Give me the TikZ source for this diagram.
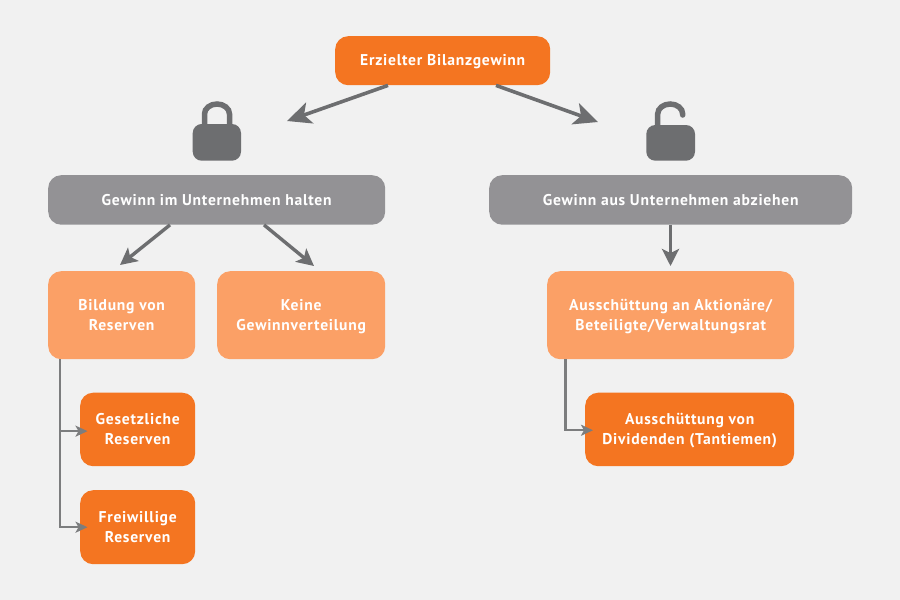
\documentclass[tikz,border=0pt]{standalone}
\usepackage{fontspec}
\setmainfont{PT Sans}[LetterSpace=4.8]
\usetikzlibrary{arrows.meta,calc}
\definecolor{pagebg}{HTML}{F1F1F1}
\definecolor{orangebox}{HTML}{F47521}
\definecolor{peachbox}{HTML}{FBA066}
\definecolor{greybox}{HTML}{939295}
\definecolor{darkgrey}{HTML}{6D6E70}
\tikzset{
  x=1pt,y=-1pt,
  box/.style={rounded corners=13pt,inner sep=0pt,align=center,text=white,font=\fontsize{15.6}{19.5}\selectfont\bfseries,anchor=north west},
  bigarrow/.style={draw=darkgrey,line width=3.6pt,-{Stealth[length=24pt,width=22pt,inset=6pt]}},
  midarrow/.style={draw=darkgrey,line width=3.4pt,-{Stealth[length=17pt,width=17pt,inset=4pt]}},
  smallarrow/.style={draw=darkgrey!90!white,line width=2.4pt,-{Stealth[length=12pt,width=11pt,inset=3pt]}},
  lockpart/.style={draw=darkgrey,line width=5.5pt,line cap=round},
}
\newcommand{\boxnode}[7]{\node[box,fill=#2,minimum width=#5pt-#3pt,minimum height=#6pt-#4pt] (#1) at (#3,#4) {#7};}
\newcommand{\lh}{\vrule width 0pt height 14.95pt depth 4.55pt\relax}
\begin{document}
\begin{tikzpicture}
\useasboundingbox (0,0) rectangle (900,600);
\fill[pagebg] (0,0) rectangle (900,600);
% locks
\draw[lockpart] (204.5,128) -- (204.5,114) arc[start angle=180,end angle=360,x radius=12.5,y radius=10] -- (229.5,128);
\fill[darkgrey,rounded corners=9pt] (192.7,124) rectangle (241,160.7);
\draw[lockpart] (657.7,128) -- (657.7,114) arc[start angle=180,end angle=360,x radius=12.5,y radius=10] -- (682.7,115);
\fill[darkgrey,rounded corners=9pt] (646.3,125) rectangle (695,160.7);
% nodes
\boxnode{top}{orangebox}{335}{36}{550}{85}{\lh Erzielter Bilanzgewinn}
\boxnode{keep}{greybox}{48}{175}{385}{224.5}{\lh Gewinn im Unternehmen halten}
\boxnode{draw}{greybox}{489}{175}{852}{224.5}{\lh Gewinn aus Unternehmen abziehen}
\boxnode{res}{peachbox}{48}{271}{195}{359}{\lh Bildung von\\\lh Reserven}
\boxnode{none}{peachbox}{217}{271}{385}{359}{\lh Keine\\\lh Gewinnverteilung}
\boxnode{pay}{peachbox}{547}{271}{794}{359}{\lh Ausschüttung an Aktionäre/\\\lh Beteiligte/Verwaltungsrat}
\boxnode{legal}{orangebox}{80}{392.5}{195}{466}{\lh Gesetzliche\\\lh Reserven}
\boxnode{free}{orangebox}{80}{490}{195}{564}{\lh Freiwillige\\\lh Reserven}
\boxnode{div}{orangebox}{585}{392.5}{794}{466}{\lh Ausschüttung von\\\lh Dividenden (Tantiemen)}
% free arrow ends
\coordinate (lockl) at (287,121);
\coordinate (lockr) at (598,122);
% connectors
\draw[bigarrow] ($(top.south west)+(53,0)$) -- (lockl);
\draw[bigarrow] ($(top.south west)+(161,0)$) -- (lockr);
\draw[midarrow] ($(keep.south west)+(122,0)$) -- ($(res.north west)+(72,-6)$);
\draw[midarrow] ($(keep.south west)+(216,0)$) -- ($(none.north west)+(97,-5)$);
\draw[midarrow] ($(draw.south west)+(181.5,0)$) -- ($(pay.north west)+(123.5,-5)$);
\draw[smallarrow] ($(res.south west)+(12.2,0)$) |- ($(legal.west)+(7.5,1.7)$);
\draw[smallarrow] ($(res.south west)+(12.2,0)$) |- ($(free.west)+(7.5,0)$);
\draw[smallarrow] ($(pay.south west)+(18.3,0)$) |- ($(div.west)+(8,0.8)$);
\end{tikzpicture}
\end{document}
